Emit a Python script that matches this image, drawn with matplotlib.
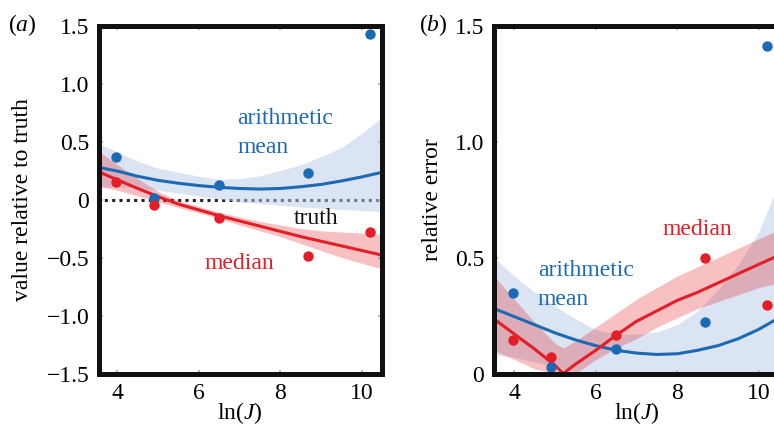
import matplotlib
matplotlib.use("Agg")
import matplotlib.pyplot as plt

plt.rcParams['font.family'] = ['Liberation Serif', 'DejaVu Serif']
plt.rcParams['mathtext.fontset'] = 'custom'
plt.rcParams['mathtext.rm'] = 'Liberation Serif'
plt.rcParams['mathtext.it'] = 'Liberation Serif:italic'

# ---------------- data ----------------
lnJ = [3.97, 4.90, 6.49, 8.68, 10.20]

# panel (a): value relative to truth
a_mean_pts = [0.366, 0.013, 0.125, 0.228, 1.427]
a_median_pts = [0.151, -0.047, -0.159, -0.487, -0.280]

fit_x = [3.5, 4.0, 4.5, 5.0, 5.5, 6.0, 6.5, 7.0, 7.5, 8.0, 8.5, 9.0, 9.5, 10.0, 10.5]
a_mean_fit = [0.28, 0.245, 0.20, 0.165, 0.14, 0.12, 0.105, 0.095, 0.09, 0.095, 0.11, 0.13, 0.16, 0.195, 0.235]
a_mean_hi = [0.49, 0.41, 0.33, 0.27, 0.235, 0.20, 0.175, 0.18, 0.205, 0.25, 0.30, 0.37, 0.45, 0.57, 0.71]
a_mean_lo = [0.10, 0.11, 0.10, 0.08, 0.055, 0.03, 0.005, -0.02, -0.035, -0.05, -0.065, -0.075, -0.085, -0.095, -0.105]
a_med_fit = [0.245, 0.17, 0.095, 0.025, -0.04, -0.09, -0.14, -0.185, -0.23, -0.275, -0.32, -0.36, -0.40, -0.44, -0.48]
a_med_hi = [0.43, 0.30, 0.18, 0.07, -0.01, -0.06, -0.11, -0.15, -0.19, -0.22, -0.25, -0.27, -0.28, -0.29, -0.30]
a_med_lo = [0.12, 0.08, 0.03, -0.02, -0.07, -0.115, -0.165, -0.22, -0.27, -0.32, -0.38, -0.44, -0.50, -0.55, -0.60]
truth_x = [3.5, 10.5]
truth_y = [0.0, 0.0]

# panel (b): relative error
b_mean_pts = [0.347, 0.03, 0.107, 0.22, 1.41]
b_median_pts = [0.143, 0.07, 0.167, 0.497, 0.296]
b_mean_fit = [0.28, 0.245, 0.21, 0.175, 0.145, 0.12, 0.10, 0.088, 0.082, 0.085, 0.10, 0.12, 0.15, 0.19, 0.24]
b_mean_hi = [0.50, 0.42, 0.35, 0.29, 0.235, 0.19, 0.17, 0.17, 0.18, 0.21, 0.27, 0.36, 0.47, 0.61, 0.82]
b_mean_lo = [0.08, 0.07, 0.05, 0.03, 0.01, 0.0, -0.02, -0.03, -0.03, -0.04, -0.04, -0.05, -0.05, -0.05, -0.05]
b_med_x = [3.5, 4.0, 4.5, 5.0, 5.2, 5.5, 6.0, 6.5, 7.0, 7.5, 8.0, 8.5, 9.0, 9.5, 10.0, 10.5]
b_med_fit = [0.235, 0.17, 0.105, 0.035, 0.0, 0.04, 0.10, 0.165, 0.225, 0.27, 0.315, 0.35, 0.39, 0.43, 0.47, 0.51]
b_med_hi = [0.42, 0.32, 0.22, 0.13, 0.11, 0.14, 0.20, 0.26, 0.32, 0.37, 0.42, 0.46, 0.50, 0.54, 0.58, 0.62]
b_med_lo = [0.10, 0.06, 0.02, 0.0, 0.0, 0.0, 0.06, 0.11, 0.15, 0.20, 0.24, 0.28, 0.31, 0.34, 0.37, 0.39]

xticks = [4, 6, 8, 10]
xticklabels = ['4', '6', '8', '10']
a_yticks = [-1.5, -1.0, -0.5, 0, 0.5, 1.0, 1.5]
a_yticklabels = ['\u22121.5', '\u22121.0', '\u22120.5', '0', '0.5', '1.0', '1.5']
b_yticks = [0, 0.5, 1.0, 1.5]
b_yticklabels = ['0', '0.5', '1.0', '1.5']

BLUE = '#1c6ab4'
RED = '#e41e26'
BLUE_BAND = '#b9cbe7'
RED_BAND = '#e41e26'
FS = 17

W, H = 774, 428
fig = plt.figure(figsize=(W / 100, H / 100), dpi=100)
axa = fig.add_axes([99 / W, 1 - 373.5 / H, 282.5 / W, 348 / H])
axb = fig.add_axes([494 / W, 1 - 373.5 / H, 285 / W, 348 / H])


def style(ax):
    for s in ax.spines.values():
        s.set_linewidth(3.6)
        s.set_color('#111111')
        s.set_zorder(10)
    ax.tick_params(direction='in', length=3, width=1.2, color='#aaaaaa',
                   top=True, right=True, labelsize=FS, pad=7)
    ax.set_xticks(xticks)
    ax.set_xticklabels(xticklabels)
    ax.set_xlabel('ln($J$)', fontsize=FS, labelpad=-3)


# ---- panel (a)
ax = axa
ax.plot(truth_x, truth_y, color='#222222', lw=2.2, linestyle=(0, (1, 1.4)), zorder=1)
ax.fill_between(fit_x, a_mean_lo, a_mean_hi, color=BLUE_BAND, alpha=0.5, lw=0, zorder=2)
ax.fill_between(fit_x, a_med_lo, a_med_hi, color=RED_BAND, alpha=0.28, lw=0, zorder=2)
ax.plot(fit_x, a_mean_fit, color=BLUE, lw=2.2, zorder=3)
ax.plot(fit_x, a_med_fit, color=RED, lw=2.2, zorder=3)
ax.plot(lnJ, a_mean_pts, 'o', color=BLUE, ms=7.5, mew=0, zorder=4)
ax.plot(lnJ, a_median_pts, 'o', color=RED, ms=7.5, mew=0, zorder=5)
ax.set_xlim(3.55, 10.48)
ax.set_ylim(-1.5, 1.5)
style(ax)
ax.set_yticks(a_yticks)
ax.set_yticklabels(a_yticklabels)
ax.set_ylabel('value relative to truth', fontsize=FS)
ax.yaxis.set_label_coords(-0.235, 0.5)
ax.text(6.94, 0.70, 'arithmetic', color=BLUE, fontsize=FS, ha='left', va='center')
ax.text(6.94, 0.45, 'mean', color=BLUE, fontsize=FS, ha='left', va='center')
ax.text(8.33, -0.16, 'truth', color='#111111', fontsize=FS, ha='left', va='center')
ax.text(6.13, -0.55, 'median', color=RED, fontsize=FS, ha='left', va='center')

# ---- panel (b)
ax = axb
ax.fill_between(fit_x, b_mean_lo, b_mean_hi, color=BLUE_BAND, alpha=0.5, lw=0, zorder=2)
ax.fill_between(b_med_x, b_med_lo, b_med_hi, color=RED_BAND, alpha=0.28, lw=0, zorder=2)
ax.plot(fit_x, b_mean_fit, color=BLUE, lw=2.2, zorder=3)
ax.plot(b_med_x, b_med_fit, color=RED, lw=2.2, zorder=3)
ax.plot(lnJ, b_mean_pts, 'o', color=BLUE, ms=7.5, mew=0, zorder=4)
ax.plot(lnJ, b_median_pts, 'o', color=RED, ms=7.5, mew=0, zorder=5)
ax.set_xlim(3.5, 10.5)
ax.set_ylim(0, 1.5)
style(ax)
ax.set_yticks(b_yticks)
ax.set_yticklabels(b_yticklabels)
ax.set_ylabel('relative error', fontsize=FS)
ax.yaxis.set_label_coords(-0.18, 0.5)
ax.text(4.58, 0.443, 'arithmetic', color=BLUE, fontsize=FS, ha='left', va='center')
ax.text(4.58, 0.317, 'mean', color=BLUE, fontsize=FS, ha='left', va='center')
ax.text(7.65, 0.62, 'median', color=RED, fontsize=FS, ha='left', va='center')

fig.text(22 / W, 1 - 25 / H, '($a$)', fontsize=FS, ha='center', va='center')
fig.text(433 / W, 1 - 25 / H, '($b$)', fontsize=FS, ha='center', va='center')

fig.savefig('out.png', dpi=100)
